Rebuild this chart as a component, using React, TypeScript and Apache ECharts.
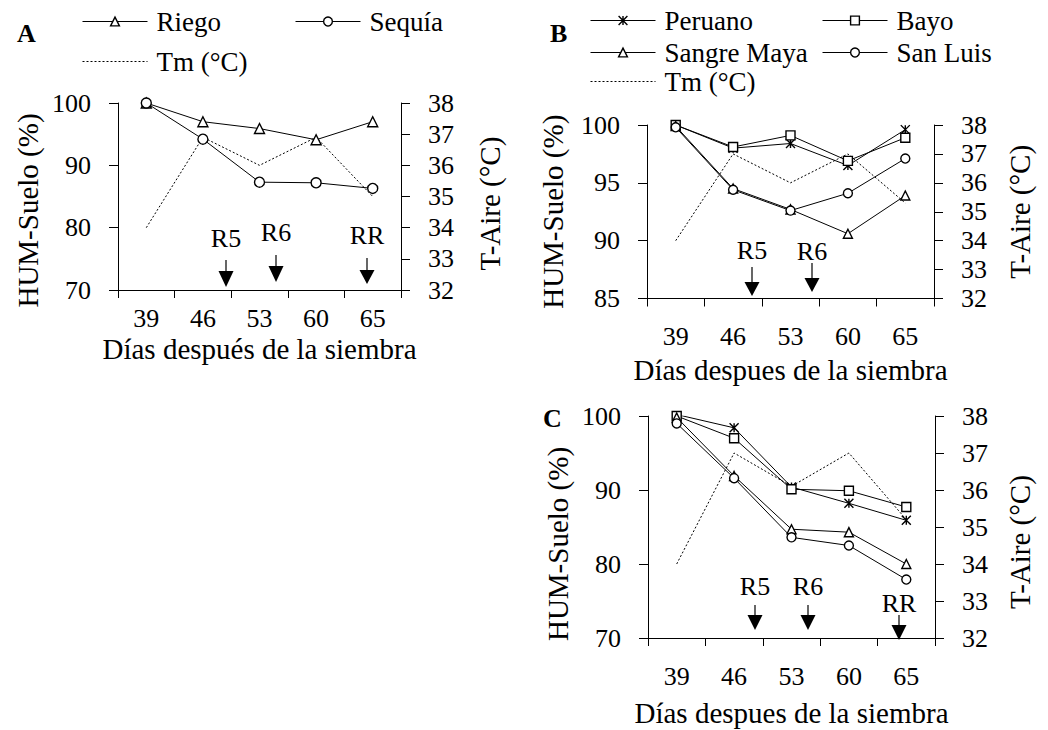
import React, { useEffect, useRef } from 'react';
import * as echarts from 'echarts';

// ---------- data ----------
const categories = ['39', '46', '53', '60', '65'];

// Panel A
const riegoA = [100, 97, 95.9, 94.1, 97];
const sequiaA = [100, 94.2, 87.3, 87.2, 86.3];
const tmA = [34, 36.9, 36, 36.9, 35];

// Panel B
const peruanoB = [100, 98, 98.4, 96.5, 99.6];
const bayoB = [100, 98.1, 99.1, 96.9, 98.9];
const sangreMayaB = [99.9, 94.5, 92.7, 90.6, 93.9];
const sanLuisB = [99.8, 94.4, 92.6, 94.1, 97.1];
const tmB = [34, 37, 36, 37, 35.3];

// Panel C
const peruanoC = [100.2, 98.4, 90.4, 88.2, 85.9];
const bayoC = [100, 97, 90.1, 89.9, 87.7];
const sangreMayaC = [99.8, 91.9, 84.7, 84.3, 80];
const sanLuisC = [99, 91.6, 83.6, 82.5, 77.9];
const tmC = [34, 37, 36.1, 37, 35.2];

// ---------- styling ----------
const FONT = 'Liberation Serif';
const STAR = 'path://M0,0L10,10M10,0L0,10M5,0L5,10';
const TICK_FS = 26;
const TITLE_FS = 29;
const MARK = { color: '#fff', borderColor: '#000', borderWidth: 1.4 };

function humSeries(name: string, data: number[], symbol: string, grid: number, yIdx: number, size = 9) {
  return {
    type: 'line',
    name,
    data,
    xAxisIndex: grid,
    yAxisIndex: yIdx,
    symbol,
    symbolSize: size,
    showSymbol: true,
    silent: true,
    color: '#000',
    lineStyle: { color: '#000', width: 1 },
    itemStyle: MARK,
    emphasis: { disabled: true },
    z: 3,
  };
}

function tmSeries(data: number[], grid: number, yIdx: number) {
  return {
    type: 'line',
    name: 'Tm (°C)',
    data,
    xAxisIndex: grid,
    yAxisIndex: yIdx,
    symbol: 'none',
    silent: true,
    color: '#000',
    lineStyle: { color: '#000', width: 1, type: [2, 2] },
    itemStyle: { color: '#000' },
    emphasis: { disabled: true },
    z: 2,
  };
}

function xAx(grid: number, name: string, margin: number, nameGap: number) {
  return {
    type: 'category',
    gridIndex: grid,
    data: categories,
    boundaryGap: true,
    axisLine: { show: true, lineStyle: { color: '#000', width: 1 } },
    axisTick: { show: true, length: 8, alignWithLabel: false, lineStyle: { color: '#000', width: 1 } },
    axisLabel: { fontFamily: FONT, fontSize: TICK_FS, color: '#000', margin, interval: 0 },
    splitLine: { show: false },
    name,
    nameLocation: 'middle',
    nameGap,
    nameTextStyle: { fontFamily: FONT, fontSize: TITLE_FS, color: '#000' },
  };
}

function yAx(
  grid: number, position: string, min: number, max: number, interval: number,
  name: string, nameGap: number, shift = 0,
) {
  return {
    type: 'value',
    gridIndex: grid,
    position,
    min,
    max,
    interval,
    axisLine: { show: true, onZero: false, lineStyle: { color: '#000', width: 1 } },
    axisTick: { show: true, length: 9, lineStyle: { color: '#000', width: 1 } },
    axisLabel: { fontFamily: FONT, fontSize: TICK_FS, color: '#000', margin: 27 },
    splitLine: { show: false },
    name,
    nameLocation: 'middle',
    nameGap,
    nameTextStyle: {
      fontFamily: FONT,
      fontSize: TITLE_FS,
      color: '#000',
      padding: shift > 0 ? [0, shift * 2, 0, 0] : shift < 0 ? [0, 0, 0, -shift * 2] : 0,
    },
  };
}

function leg(name: string, left: number, cy: number, hideSymbol = false) {
  return {
    show: true,
    data: [name],
    left,
    top: cy - 14,
    padding: 0,
    itemWidth: 65,
    itemHeight: 11,
    selectedMode: false,
    itemStyle: hideSymbol ? { opacity: 0 } : { color: '#fff', borderColor: '#000', borderWidth: 1.4 },
    lineStyle: { color: '#000', width: 1 },
    textStyle: { fontFamily: FONT, fontSize: 27, color: '#000', padding: [0, 0, 0, 4] },
  };
}

function arrow(label: string, x: number, textY: number, stemTop: number, headTop: number, headBottom: number) {
  return [
    {
      type: 'text',
      x,
      y: textY,
      silent: true,
      style: { text: label, font: '26px Liberation Serif', fill: '#000', align: 'center', verticalAlign: 'middle' },
    },
    {
      type: 'line',
      silent: true,
      shape: { x1: x, y1: stemTop, x2: x, y2: headTop },
      style: { stroke: '#000', lineWidth: 1.2 },
    },
    {
      type: 'polygon',
      silent: true,
      shape: { points: [[x - 7.5, headTop], [x + 7.5, headTop], [x, headBottom]] },
      style: { fill: '#000' },
    },
  ];
}

function panelLabel(t: string, x: number, y: number) {
  return {
    type: 'text',
    x,
    y,
    silent: true,
    style: { text: t, font: 'bold 26px Liberation Serif', fill: '#000', align: 'left', verticalAlign: 'middle' },
  };
}

export default function App() {
  const ref = useRef<HTMLDivElement>(null);

  useEffect(() => {
    if (!ref.current) return;
    const chart = echarts.init(ref.current, undefined, { renderer: 'svg' });
    const option = {
      animation: false,
      backgroundColor: '#fff',
      textStyle: { fontFamily: FONT },
      tooltip: { show: false },
      grid: [
        { left: 118, top: 103, width: 283, height: 187 },
        { left: 647, top: 125, width: 287, height: 173.5 },
        { left: 648, top: 416, width: 287, height: 222 },
      ],
      xAxis: [
        xAx(0, 'Días después de la siembra', 15, 44),
        xAx(1, 'Días despues de la siembra', 25, 57),
        xAx(2, 'Días despues de la siembra', 25, 60),
      ],
      yAxis: [
        yAx(0, 'left', 70, 100, 10, 'HUM-Suelo (%)', 76, 14),
        yAx(0, 'right', 32, 38, 1, 'T-Aire (°C)', 74, 7),
        yAx(1, 'left', 85, 100, 5, 'HUM-Suelo (%)', 80),
        yAx(1, 'right', 32, 38, 1, 'T-Aire (°C)', 71),
        yAx(2, 'left', 70, 100, 10, 'HUM-Suelo (%)', 76, 17),
        yAx(2, 'right', 32, 38, 1, 'T-Aire (°C)', 70, 15),
      ],
      legend: [
        leg('Riego', 82, 22),
        leg('Sequía', 295, 22),
        leg('Tm (°C)', 82, 62, true),
        leg('Peruano', 590, 21),
        leg('Bayo', 822, 21),
        leg('Sangre Maya', 590, 53),
        leg('San Luis', 822, 53),
        leg('Tm (°C)', 590, 82, true),
      ],
      series: [
        tmSeries(tmA, 0, 1),
        humSeries('Riego', riegoA, 'triangle', 0, 0, 10),
        humSeries('Sequía', sequiaA, 'circle', 0, 0, 10),

        tmSeries(tmB, 1, 3),
        humSeries('Peruano', peruanoB, STAR, 1, 2),
        humSeries('Bayo', bayoB, 'rect', 1, 2),
        humSeries('Sangre Maya', sangreMayaB, 'triangle', 1, 2),
        humSeries('San Luis', sanLuisB, 'circle', 1, 2),

        tmSeries(tmC, 2, 5),
        humSeries('Peruano', peruanoC, STAR, 2, 4),
        humSeries('Bayo', bayoC, 'rect', 2, 4),
        humSeries('Sangre Maya', sangreMayaC, 'triangle', 2, 4),
        humSeries('San Luis', sanLuisC, 'circle', 2, 4),
      ],
      graphic: [
        panelLabel('A', 17, 33),
        panelLabel('B', 550, 33),
        panelLabel('C', 543, 418),
        ...arrow('R5', 226, 238, 260, 271, 287),
        ...arrow('R6', 276, 232, 255, 266, 282),
        ...arrow('RR', 367, 235, 258, 270, 284),
        ...arrow('R5', 752, 250, 267, 282, 296),
        ...arrow('R6', 812, 251, 263, 278, 292),
        ...arrow('R5', 755, 586, 605, 615, 630),
        ...arrow('R6', 808, 586, 605, 615, 630),
        ...arrow('RR', 899, 603, 615, 625, 640),
      ],
    };
    chart.setOption(option as any);
    return () => chart.dispose();
  }, []);

  return (
    <div
      ref={ref}
      style={{ position: 'absolute', left: 0, top: 0, width: 1048, height: 730, background: '#fff' }}
    />
  );
}
